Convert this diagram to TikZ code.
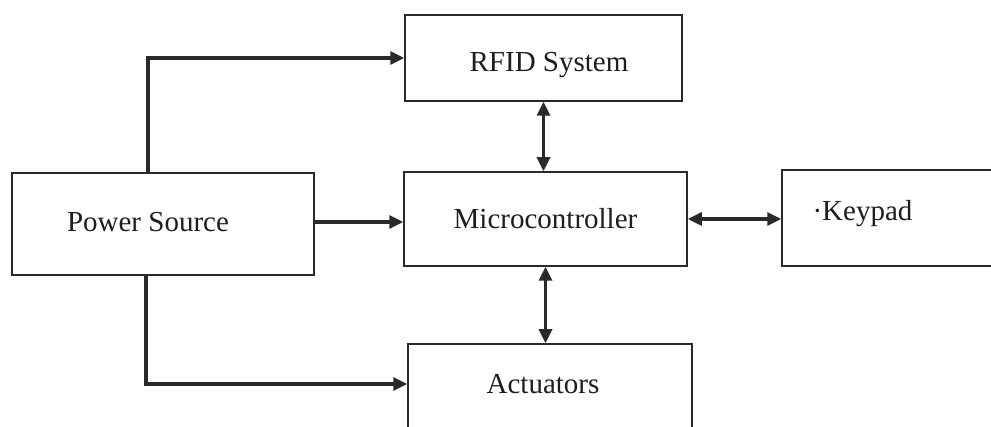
\documentclass[tikz,border=0pt]{standalone}
\usepackage{fontspec}
\setmainfont{Liberation Serif}
\usetikzlibrary{arrows.meta}
\definecolor{linec}{HTML}{2A2A2A}
\definecolor{txtc}{HTML}{1E1E1E}
\begin{document}
\begin{tikzpicture}[x=1pt,y=-1pt,
  blk/.style={draw=linec, line width=1.5pt, rectangle, inner sep=0pt,
    font=\fontsize{29}{34}\selectfont, text=txtc, text depth=0pt},
  conn/.style={draw=linec, line width=3.2pt, -{Triangle[length=14pt,width=13pt]}},
  bconn/.style={draw=linec, line width=3.2pt,
    {Triangle[length=14pt,width=13pt]}-{Triangle[length=14pt,width=13pt]}}]
\useasboundingbox (0,0) rectangle (991,427);
\clip (0,0) rectangle (991,427);
\fill[white] (0,0) rectangle (991,427);

\node[blk, minimum width=277pt, minimum height=86pt, text height=27.2pt] (rfid) at (543.5,58) {\hspace*{11pt}RFID System};
\node[blk, minimum width=283pt, minimum height=94pt, text height=20pt] (micro) at (545.5,219) {Microcontroller};
\node[blk, minimum width=302pt, minimum height=102pt, text height=15.4pt] (power) at (163,224) {Power Source\hspace*{30pt}};
\node[blk, minimum width=240pt, minimum height=96pt, text height=5.4pt] (keypad) at (902,218) {·Keypad\hspace*{79pt}};
\node[blk, minimum width=284pt, minimum height=100pt, text height=0pt] (act) at (550,394) {Actuators\hspace*{14pt}};

\draw[conn] ([xshift=-15pt]power.north) |- (rfid.west);
\draw[conn] ([xshift=-17pt]power.south) |- ([yshift=10pt]act.west);
\draw[conn] ([yshift=2pt]power.east) -- ([yshift=2pt]power.east -| micro.west);
\draw[bconn] (rfid.south) -- (rfid.south |- micro.north);
\draw[bconn] (micro.south) -- (micro.south |- act.north);
\draw[bconn] (micro.east) -- (micro.east -| keypad.west);
\end{tikzpicture}
\end{document}
